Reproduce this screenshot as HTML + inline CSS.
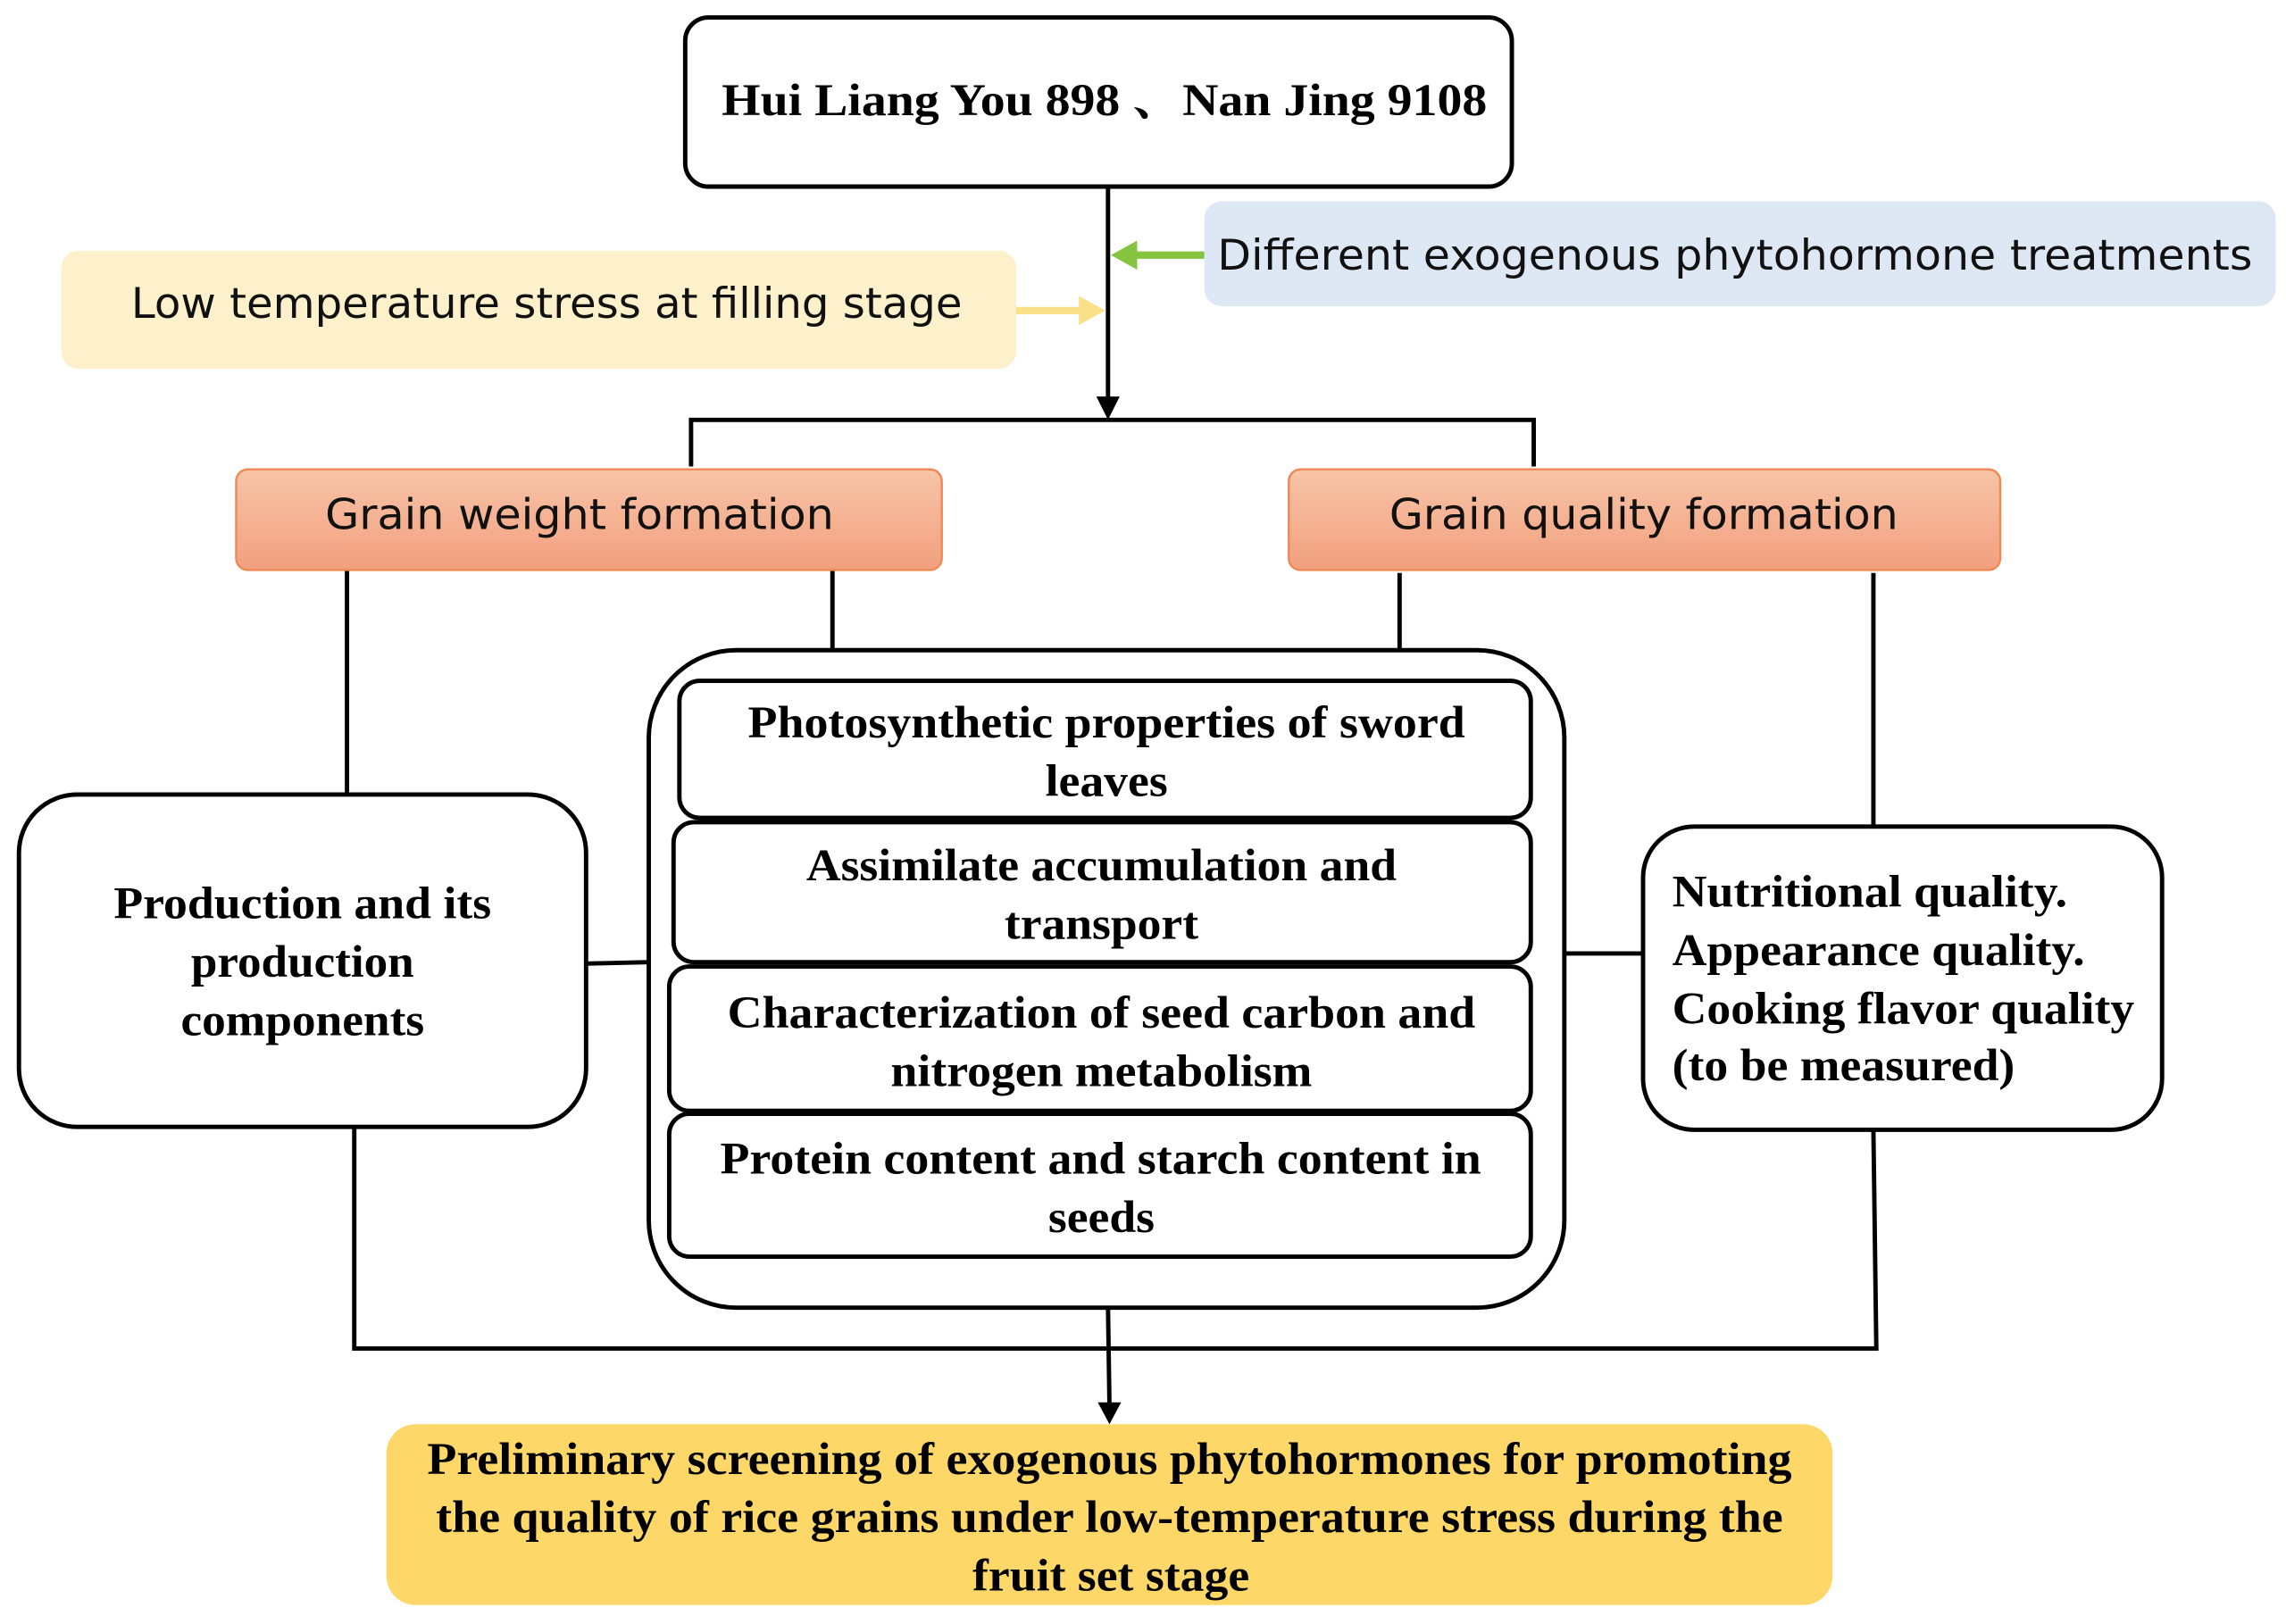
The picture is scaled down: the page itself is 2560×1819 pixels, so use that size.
<!DOCTYPE html>
<html><head><meta charset="utf-8"><style>
html,body{margin:0;padding:0;background:#fff;width:2560px;height:1819px;overflow:hidden}
svg{display:block}
.s{font-family:"Liberation Serif","Noto Serif CJK SC",serif;font-weight:bold;font-size:31px;fill:#000}
.a{font-family:"DejaVu Sans","Liberation Sans",sans-serif;font-size:29px;fill:#111}
</style></head><body>
<svg width="2560" height="1819" viewBox="0 0 1568 1114" preserveAspectRatio="none" xmlns="http://www.w3.org/2000/svg">
<defs>
<linearGradient id="og" x1="0" y1="0" x2="0" y2="1"><stop offset="0" stop-color="#f7c4a8"/><stop offset="1" stop-color="#f2a07e"/></linearGradient>
</defs>
<g fill="none" stroke="#000" stroke-width="3">
<rect x="470" y="12" width="567" height="116" rx="16"/>
<line x1="760" y1="128" x2="760" y2="274"/>
<polyline points="474,320 474,288 1052,288 1052,320"/>
<line x1="238" y1="391" x2="238" y2="545"/>
<line x1="571" y1="391" x2="571" y2="446"/>
<line x1="960" y1="393" x2="960" y2="446"/>
<line x1="1285" y1="393" x2="1285" y2="567"/>
<rect x="13" y="545" width="389" height="228" rx="40"/>
<line x1="402" y1="661" x2="445" y2="660"/>
<rect x="445" y="446" width="628" height="451" rx="60"/>
<rect x="466" y="467" width="584" height="94" rx="14"/>
<rect x="462" y="564" width="588" height="96" rx="14"/>
<rect x="459" y="663" width="591" height="99" rx="14"/>
<rect x="459" y="764" width="591" height="98" rx="14"/>
<rect x="1127" y="567" width="356" height="208" rx="35"/>
<line x1="1073" y1="654" x2="1127" y2="654"/>
<polyline points="243,773 243,925 1287,925 1285,775"/>
<line x1="760" y1="897" x2="761" y2="964"/>
</g>
<polygon points="752,272 768,272 760,288" fill="#000"/>
<polygon points="753,962 769,962 761,977" fill="#000"/>
<rect x="826" y="138" width="735" height="72" rx="12" fill="#dde8f4"/>
<rect x="42" y="172" width="655" height="81" rx="12" fill="#fdf1cc"/>
<line x1="826" y1="175" x2="775" y2="175" stroke="#86c440" stroke-width="5"/>
<polygon points="762,175 780,165 780,185" fill="#86c440"/>
<line x1="697" y1="213" x2="745" y2="213" stroke="#fbe08a" stroke-width="5"/>
<polygon points="758,213 740,203 740,223" fill="#fbe08a"/>
<rect x="162" y="322" width="484" height="69" rx="8" fill="url(#og)" stroke="#ee8a55" stroke-width="1.5"/>
<rect x="884" y="322" width="488" height="69" rx="8" fill="url(#og)" stroke="#ee8a55" stroke-width="1.5"/>
<rect x="265" y="977" width="992" height="124" rx="20" fill="#fdd868"/>
<text class="s" x="495" y="79" font-size="32" textLength="525" lengthAdjust="spacingAndGlyphs">Hui Liang You 898 、Nan Jing 9108</text>
<text class="a" x="835" y="185" textLength="710" lengthAdjust="spacingAndGlyphs">Different exogenous phytohormone treatments</text>
<text class="a" x="90" y="218" textLength="570" lengthAdjust="spacingAndGlyphs">Low temperature stress at filling stage</text>
<text class="a" x="223" y="363" textLength="349" lengthAdjust="spacingAndGlyphs">Grain weight formation</text>
<text class="a" x="953" y="363" textLength="349" lengthAdjust="spacingAndGlyphs">Grain quality formation</text>
<g class="s" lengthAdjust="spacingAndGlyphs">
<text x="78" y="630" textLength="259" lengthAdjust="spacingAndGlyphs">Production and its</text>
<text x="131" y="670" textLength="153" lengthAdjust="spacingAndGlyphs">production</text>
<text x="124" y="710" textLength="167" lengthAdjust="spacingAndGlyphs">components</text>
<text x="513" y="506" textLength="492" lengthAdjust="spacingAndGlyphs">Photosynthetic properties of sword</text>
<text x="717" y="546" textLength="84" lengthAdjust="spacingAndGlyphs">leaves</text>
<text x="553" y="604" textLength="405" lengthAdjust="spacingAndGlyphs">Assimilate accumulation and</text>
<text x="689" y="644" textLength="133" lengthAdjust="spacingAndGlyphs">transport</text>
<text x="499" y="705" textLength="513" lengthAdjust="spacingAndGlyphs">Characterization of seed carbon and</text>
<text x="611" y="745" textLength="289" lengthAdjust="spacingAndGlyphs">nitrogen metabolism</text>
<text x="494" y="805" textLength="522" lengthAdjust="spacingAndGlyphs">Protein content and starch content in</text>
<text x="719" y="845" textLength="73" lengthAdjust="spacingAndGlyphs">seeds</text>
<text x="293" y="1011" textLength="936" lengthAdjust="spacingAndGlyphs">Preliminary screening of exogenous phytohormones for promoting</text>
<text x="299" y="1051" textLength="924" lengthAdjust="spacingAndGlyphs">the quality of rice grains under low-temperature stress during the</text>
<text x="667" y="1091" textLength="190" lengthAdjust="spacingAndGlyphs">fruit set stage</text>
<text x="1147" y="622" textLength="271" lengthAdjust="spacingAndGlyphs">Nutritional quality.</text>
<text x="1147" y="662" textLength="283" lengthAdjust="spacingAndGlyphs">Appearance quality.</text>
<text x="1147" y="702" textLength="317" lengthAdjust="spacingAndGlyphs">Cooking flavor quality</text>
<text x="1147" y="741" textLength="235" lengthAdjust="spacingAndGlyphs">(to be measured)</text>
</g>
</svg>
</body></html>
